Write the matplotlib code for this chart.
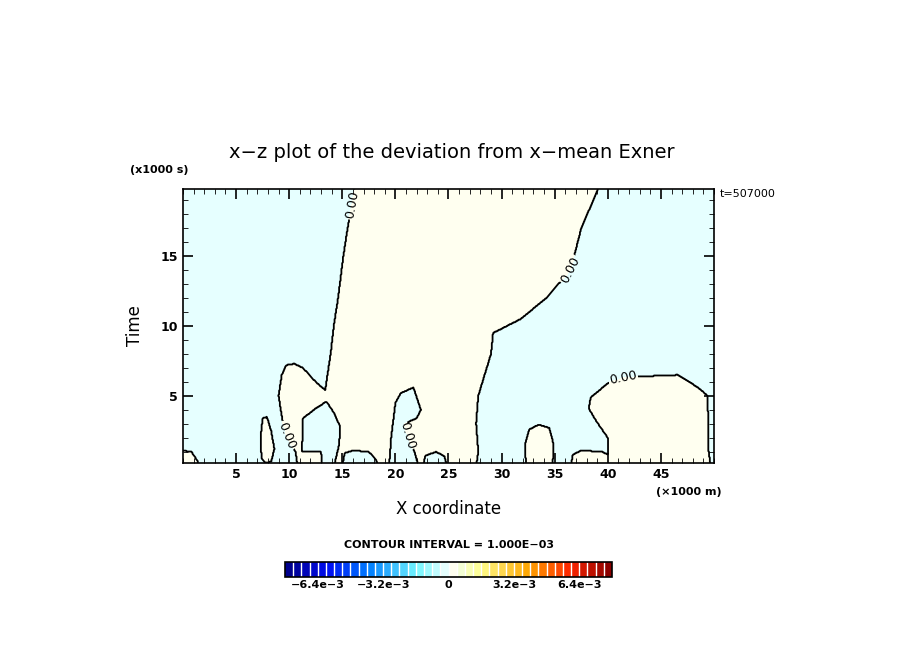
import numpy as np
import matplotlib
matplotlib.use("Agg")
import matplotlib.pyplot as plt
from matplotlib.path import Path
from matplotlib.colors import ListedColormap, BoundaryNorm, LinearSegmentedColormap
import matplotlib.ticker as mt

# Regions of positive deviation, x in km/1000, time in 1000 s
pos_main = [(16.2,20.0),(39.2,20.0),(37.5,17),(36.5,14),(34.2,12),(31.8,10.5),(29.2,9.5),(29,8),
            (28.4,6.5),(27.8,5),(27.6,3),(27.8,1),(27.6,-0.1),(10.8,-0.1),(10.6,1),(9.8,2),(9.4,3.1),
            (9.0,5),(9.3,6.5),(9.7,7.2),(10.5,7.3),(11.3,7.0),(12.5,6),(13.4,5.4),(13.6,6.5),(13.9,8),
            (14.2,10),(14.6,12),(15.1,15),(15.5,17),(16.2,20.0)]
neg_tongue = [(11.2,1.0),(11.3,3.4),(12.5,4.1),(13.5,4.6),(14.2,3.8),(14.8,2.8),(14.7,1.5),(14.2,-0.1),
              (13.1,-0.1),(13.0,1.0)]
neg_bump = [(15.0,-0.1),(15.2,0.9),(16.0,1.1),(17.5,1.0),(18.2,0.4),(18.4,-0.1)]
neg_lobe = [(19.4,-0.1),(19.6,2),(20.0,4.5),(20.5,5.2),(21.7,5.6),(22.4,4),(22.0,3.4),(20.8,3.0),
            (21.2,2.0),(21.8,1.0),(22.2,-0.1)]
neg_bump2 = [(22.6,-0.1),(22.8,0.7),(23.8,1.0),(24.6,0.7),(24.9,-0.1)]
pos_bubble = [(32.3,-0.1),(32.2,1.5),(32.6,2.6),(33.5,2.95),(34.5,2.7),(34.9,1.5),(34.8,-0.1)]
pos_right = [(36.5,-0.1),(36.7,0.8),(37.5,1.1),(39.5,1.0),(40,0.8),(40,2),(39,3.1),(38.2,4.1),(38.4,4.9),
             (40,5.9),(41.5,6.3),(43.4,6.4),(46.6,6.5),(48.5,5.6),(49.4,5.0),(49.5,1),(49.7,-0.1)]
pos_corner = [(-0.1,-0.1),(-0.1,1.1),(0.8,1.0),(1.4,0.3),(1.5,-0.1)]
pos_island = [(7.4,0.5),(7.3,2),(7.5,3.4),(7.9,3.5),(8.3,2.5),(8.6,1.2),(8.3,0.3),(7.8,0.2)]
amplitude = 2e-4
label_spots = [(16.3,18.6),(36.6,14.0),(41.5,6.2),(10.0,2.3),(21.4,2.2)]

cb_ticks = [-6.4e-3, -3.2e-3, 0, 3.2e-3, 6.4e-3]
cb_labels = ["\u22126.4e\u22123", "\u22123.2e\u22123", "0", "3.2e\u22123", "6.4e\u22123"]

xg = np.linspace(0, 50, 700)
yg = np.linspace(0.2, 19.8, 300)
X, Y = np.meshgrid(xg, yg)
pts = np.column_stack([X.ravel(), Y.ravel()])
def inside(poly):
    return Path(poly).contains_points(pts).reshape(X.shape)
mask = inside(pos_main)
for h in (neg_tongue, neg_bump, neg_lobe, neg_bump2):
    mask &= ~inside(h)
for p in (pos_bubble, pos_right, pos_corner, pos_island):
    mask |= inside(p)
Z = np.where(mask, amplitude, -amplitude)

levels = np.linspace(-8e-3, 8e-3, 41)
base = LinearSegmentedColormap.from_list("gb", [
    (0.0, (0.0, 0.0, 0.55)), (0.12, (0.0, 0.05, 0.95)), (0.25, (0.0, 0.5, 1.0)),
    (0.4, (0.45, 0.97, 1.0)), (0.5, (0.93, 1.0, 1.0)), (0.6, (1.0, 1.0, 0.55)),
    (0.75, (1.0, 0.65, 0.0)), (0.88, (1.0, 0.15, 0.0)), (1.0, (0.55, 0.0, 0.0))])
cols = [base(i / 39) for i in range(40)]
cols[19] = (0.90, 1.0, 1.0, 1)
cols[20] = (1.0, 1.0, 0.94, 1)
cmap = ListedColormap(cols)
norm = BoundaryNorm(levels, 40)

fig = plt.figure(figsize=(9.04, 6.54), dpi=100)
ax = fig.add_axes([183/904, (654-463)/654, 531/904, (463-189)/654])
cf = ax.contourf(X, Y, Z, levels=levels, cmap=cmap, norm=norm)
cs = ax.contour(X, Y, Z, levels=[0], colors='k', linewidths=1.3)
ax.clabel(cs, fmt='0.00', fontsize=9, inline=True, inline_spacing=2, manual=label_spots)
ax.set_xlim(0, 50)
ax.set_ylim(0.2, 19.8)
ax.xaxis.set_major_locator(mt.FixedLocator([5,10,15,20,25,30,35,40,45]))
ax.xaxis.set_minor_locator(mt.MultipleLocator(1))
ax.yaxis.set_major_locator(mt.FixedLocator([5,10,15]))
ax.yaxis.set_minor_locator(mt.MultipleLocator(1))
ax.tick_params(which='both', direction='in', top=True, right=True, labelsize=9)
ax.tick_params(which='major', length=7, width=1.2)
ax.tick_params(which='minor', length=3.5)
for s in ax.spines.values():
    s.set_linewidth(1.2)
for t in ax.get_xticklabels() + ax.get_yticklabels():
    t.set_fontweight('bold')
ax.set_xlabel("X coordinate", fontsize=12, labelpad=14)
ax.set_ylabel("Time", fontsize=12, labelpad=12)
fig.text(452/904, 1-152/654, "x\u2212z plot of the deviation from x\u2212mean Exner", ha='center', va='center', fontsize=14)
fig.text(130/904, 1-170/654, "(x1000 s)", fontsize=8, fontweight='bold', va='center')
fig.text(720/904, 1-194/654, "t=507000", fontsize=8, va='center')
fig.text(722/904, 1-492/654, "(\u00d71000 m)", fontsize=8, fontweight='bold', va='center', ha='right')
fig.text(449/904, 1-545/654, "CONTOUR INTERVAL = 1.000E\u221203", fontsize=8, fontweight='bold', ha='center', va='center')

cax = fig.add_axes([285/904, 1-577/654, 327/904, 15/654])
cb = fig.colorbar(cf, cax=cax, orientation='horizontal', drawedges=True, ticks=cb_ticks)
cb.ax.minorticks_off()
cb.ax.set_xticklabels(cb_labels, fontsize=8, fontweight='bold')
cb.ax.tick_params(length=0, pad=2)
cb.outline.set_linewidth(1.2)
cb.dividers.set_color('white')
cb.dividers.set_linewidth(1.0)
fig.savefig("out.png", dpi=100)
